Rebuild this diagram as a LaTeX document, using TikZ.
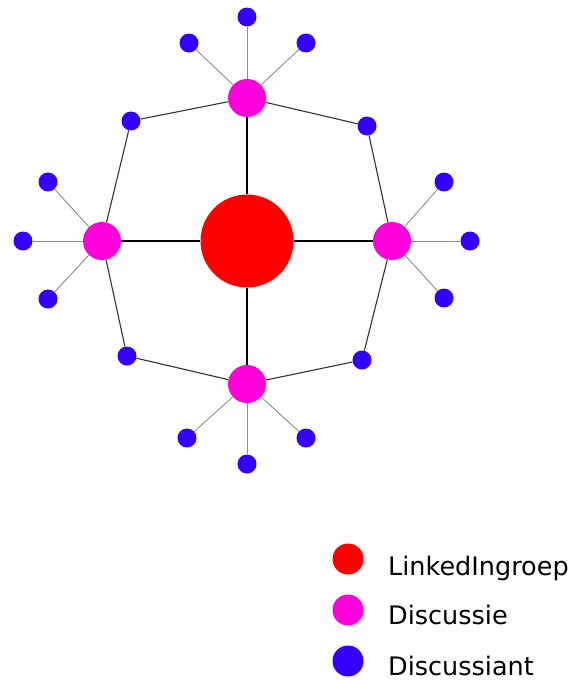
\documentclass[tikz,border=0pt]{standalone}
\usepackage{fontspec}
\setmainfont{DejaVu Sans}
\definecolor{groep}{RGB}{255,0,0}
\definecolor{disc}{RGB}{255,0,220}
\definecolor{pers}{RGB}{51,0,255}
\tikzset{
  groepnode/.style={shape=circle,fill=groep,inner sep=0pt,minimum size=93pt},
  discnode/.style={shape=circle,fill=disc,inner sep=0pt,minimum size=38pt},
  persnode/.style={shape=circle,fill=pers,inner sep=0pt,minimum size=19pt},
  spoke/.style={line width=2.2pt,black},
  ring/.style={line width=1.1pt,black!80},
  leaf/.style={line width=0.9pt,black!45}
}
\begin{document}
\begin{tikzpicture}[x=1pt,y=-1pt]
\useasboundingbox (0,0) rectangle (571,680);
\node[groepnode] (g) at (247,241) {};
\node[discnode] (d1) at (247,98) {};
\node[discnode] (d2) at (102,241) {};
\node[discnode] (d3) at (247,384) {};
\node[discnode] (d4) at (392,241) {};
\node[persnode] (r1) at (131,121) {};
\node[persnode] (r2) at (127,356) {};
\node[persnode] (r3) at (362,360) {};
\node[persnode] (r4) at (367,126) {};
\node[persnode] (a1) at (189,43) {};
\node[persnode] (a2) at (247,17) {};
\node[persnode] (a3) at (306,43) {};
\node[persnode] (b1) at (48,182) {};
\node[persnode] (b2) at (23,241) {};
\node[persnode] (b3) at (48,299) {};
\node[persnode] (c1) at (187,438) {};
\node[persnode] (c2) at (247,464) {};
\node[persnode] (c3) at (306,438) {};
\node[persnode] (e1) at (444,182) {};
\node[persnode] (e2) at (470,241) {};
\node[persnode] (e3) at (444,298) {};
\draw [spoke] (g) -- (d1);
\draw [spoke] (g) -- (d2);
\draw [spoke] (g) -- (d3);
\draw [spoke] (g) -- (d4);
\draw [ring] (d1) -- (r1) -- (d2) -- (r2) -- (d3) -- (r3) -- (d4) -- (r4) -- (d1);
\draw [leaf] (d1) -- (a1);
\draw [leaf] (d1) -- (a2);
\draw [leaf] (d1) -- (a3);
\draw [leaf] (d2) -- (b1);
\draw [leaf] (d2) -- (b2);
\draw [leaf] (d2) -- (b3);
\draw [leaf] (d3) -- (c1);
\draw [leaf] (d3) -- (c2);
\draw [leaf] (d3) -- (c3);
\draw [leaf] (d4) -- (e1);
\draw [leaf] (d4) -- (e2);
\draw [leaf] (d4) -- (e3);
% legenda
\node[groepnode,minimum size=31pt] (lg) at (348,559) {};
\node[discnode,minimum size=31pt] (ld) at (348,610) {};
\node[persnode,minimum size=31pt] (lp) at (348,661) {};
\node[anchor=base west,inner sep=0pt,font=\fontsize{25.5}{30}\selectfont] (tg) at (388,575) {LinkedIngroep};
\node[anchor=base west,inner sep=0pt,font=\fontsize{25.5}{30}\selectfont] (td) at (388,624) {Discussie};
\node[anchor=base west,inner sep=0pt,font=\fontsize{25.5}{30}\selectfont] (tp) at (388,675) {Discussiant};
\end{tikzpicture}
\end{document}
